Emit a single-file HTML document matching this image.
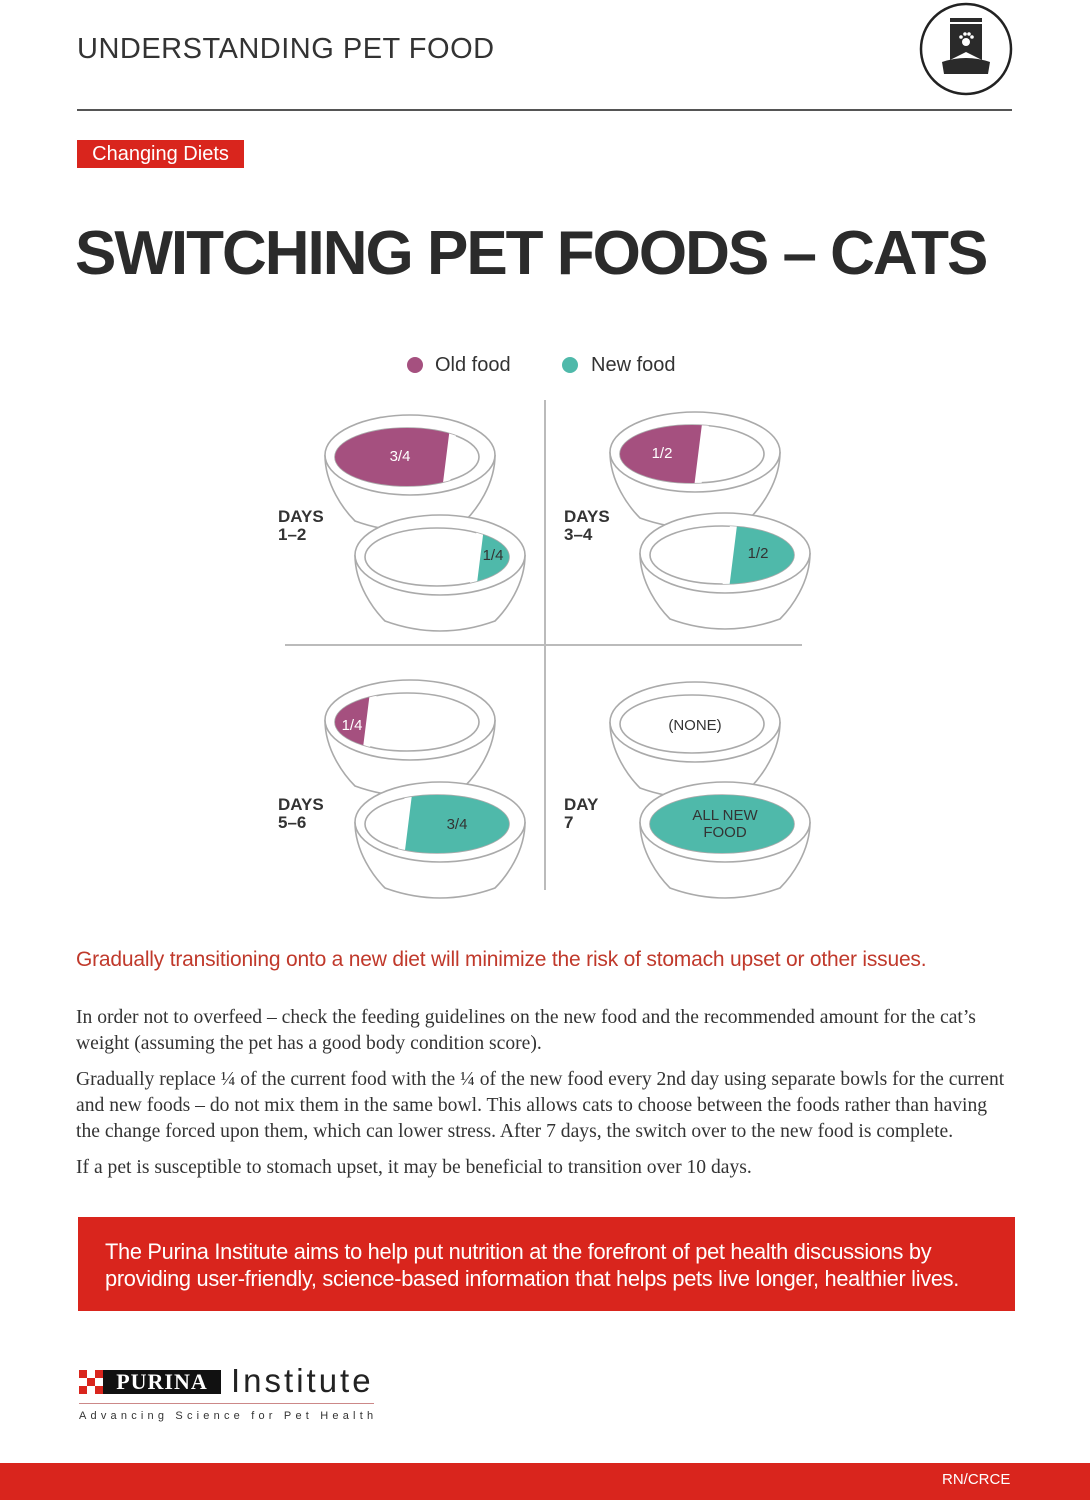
<!DOCTYPE html>
<html><head><meta charset="utf-8"><style>
body{margin:0;width:1090px;height:1500px;background:#fff;position:relative;overflow:hidden;font-family:"Liberation Sans",sans-serif;color:#333}
.a{position:absolute}
p{margin:0}
</style></head><body>
<div class="a" style="left:77px;top:33px;font-size:29px;color:#333;letter-spacing:0.5px">UNDERSTANDING PET FOOD</div>
<svg class="a" style="left:918px;top:2px" width="98" height="96" viewBox="0 0 98 96">
<circle cx="48" cy="47" r="45" fill="none" stroke="#222" stroke-width="2.5"/>
<rect x="32" y="16" width="32" height="42" fill="#2a2a2a"/>
<rect x="32" y="20" width="32" height="2" fill="#fff"/>
<path d="M32 58 L48 50 L64 58 Z" fill="#fff"/>
<path d="M24 60 Q48 52 72 60 L70 72 L26 72 Z" fill="#2a2a2a"/>
<circle cx="48" cy="40" r="4" fill="#fff"/><circle cx="43" cy="35" r="1.8" fill="#fff"/><circle cx="47" cy="32" r="1.8" fill="#fff"/><circle cx="51" cy="32" r="1.8" fill="#fff"/><circle cx="54" cy="35" r="1.8" fill="#fff"/>
</svg>
<div class="a" style="left:77px;top:109px;width:935px;height:2px;background:#555"></div>
<div class="a" style="left:77px;top:140px;width:167px;height:28px;background:#d9251d;color:#fff;font-size:20px;line-height:28px;text-align:center">Changing Diets</div>
<div class="a" style="left:75px;top:218px;font-size:62px;font-weight:bold;color:#2b2b2b;letter-spacing:-2px">SWITCHING PET FOODS – CATS</div>

<svg class="a" style="left:0;top:340px" width="1090" height="580" viewBox="0 340 1090 580" font-family="Liberation Sans, sans-serif">
<defs>
<clipPath id="ci"><ellipse cx="-3" cy="2" rx="72" ry="29"/></clipPath>
<g id="bw">
<path d="M-85 0 C-85 30 -66 55 -55 66 Q0 86 55 66 C66 55 85 30 85 0" fill="#fff" stroke="#aaa" stroke-width="1.6"/>
<ellipse cx="0" cy="0" rx="85" ry="40" fill="#fff" stroke="#aaa" stroke-width="1.6"/>
<ellipse cx="-3" cy="2" rx="72" ry="29" fill="#fff" stroke="#aaa" stroke-width="1.6"/>
</g>
</defs>
<circle cx="415" cy="365" r="8" fill="#a5507f"/><text x="435" y="371" font-size="20" fill="#333">Old food</text>
<circle cx="570" cy="365" r="8" fill="#4fb9aa"/><text x="591" y="371" font-size="20" fill="#333">New food</text>
<line x1="545" y1="400" x2="545" y2="890" stroke="#bbb" stroke-width="2"/>
<line x1="285" y1="645" x2="802" y2="645" stroke="#bbb" stroke-width="2"/>
<g font-size="17" font-weight="bold" fill="#333">
<text x="278" y="522">DAYS</text><text x="278" y="540">1–2</text>
<text x="564" y="522">DAYS</text><text x="564" y="540">3–4</text>
<text x="278" y="810">DAYS</text><text x="278" y="828">5–6</text>
<text x="564" y="810">DAY</text><text x="564" y="828">7</text>
</g>
<g transform="translate(410,455)"><use href="#bw"/><g clip-path="url(#ci)"><polygon points="-100,-40 45,-40 35,40 -100,40" fill="#a5507f"/><line x1="45" y1="-40" x2="35" y2="40" stroke="#fff" stroke-width="7"/></g><text x="-10" y="6" font-size="15" fill="#fff" text-anchor="middle">3/4</text></g>
<g transform="translate(440,555)"><use href="#bw"/><g clip-path="url(#ci)"><polygon points="42,-40 100,-40 100,40 32,40" fill="#4fb9aa"/><line x1="42" y1="-40" x2="32" y2="40" stroke="#fff" stroke-width="7"/></g><text x="53" y="5" font-size="15" fill="#333" text-anchor="middle">1/4</text></g>
<g transform="translate(695,452)"><use href="#bw"/><g clip-path="url(#ci)"><polygon points="-100,-40 12,-40 2,40 -100,40" fill="#a5507f"/><line x1="12" y1="-40" x2="2" y2="40" stroke="#fff" stroke-width="7"/></g><text x="-33" y="6" font-size="15" fill="#fff" text-anchor="middle">1/2</text></g>
<g transform="translate(725,553)"><use href="#bw"/><g clip-path="url(#ci)"><polygon points="10,-40 100,-40 100,40 0,40" fill="#4fb9aa"/><line x1="10" y1="-40" x2="0" y2="40" stroke="#fff" stroke-width="7"/></g><text x="33" y="5" font-size="15" fill="#333" text-anchor="middle">1/2</text></g>
<g transform="translate(410,720)"><use href="#bw"/><g clip-path="url(#ci)"><polygon points="-100,-40 -35,-40 -45,40 -100,40" fill="#a5507f"/><line x1="-35" y1="-40" x2="-45" y2="40" stroke="#fff" stroke-width="7"/></g><text x="-58" y="10" font-size="15" fill="#fff" text-anchor="middle">1/4</text></g>
<g transform="translate(440,822)"><use href="#bw"/><g clip-path="url(#ci)"><polygon points="-30,-40 100,-40 100,40 -40,40" fill="#4fb9aa"/><line x1="-30" y1="-40" x2="-40" y2="40" stroke="#fff" stroke-width="7"/></g><text x="17" y="7" font-size="15" fill="#333" text-anchor="middle">3/4</text></g>
<g transform="translate(695,722)"><use href="#bw"/><text x="0" y="8" font-size="15" fill="#333" text-anchor="middle">(NONE)</text></g>
<g transform="translate(725,822)"><use href="#bw"/><ellipse cx="-3" cy="2" rx="72" ry="29" fill="#4fb9aa"/><text x="0" y="-2" font-size="15" fill="#333" text-anchor="middle">ALL NEW</text><text x="0" y="15" font-size="15" fill="#333" text-anchor="middle">FOOD</text></g>
</svg>

<div class="a" style="left:76px;top:948px;font-size:21px;color:#c0392b;letter-spacing:-0.2px;white-space:nowrap">Gradually transitioning onto a new diet will minimize the risk of stomach upset or other issues.</div>
<div class="a" style="left:76px;top:1005px;width:935px;font-family:'Liberation Serif',serif;font-size:19.6px;line-height:26px;color:#333">
<p>In order not to overfeed – check the feeding guidelines on the new food and the recommended amount for the cat’s weight (assuming the pet has a good body condition score).</p>
<p style="margin-top:10px">Gradually replace ¼ of the current food with the ¼ of the new food every 2nd day using separate bowls for the current and new foods – do not mix them in the same bowl. This allows cats to choose between the foods rather than having the change forced upon them, which can lower stress. After 7 days, the switch over to the new food is complete.</p>
<p style="margin-top:10px">If a pet is susceptible to stomach upset, it may be beneficial to transition over 10 days.</p>
</div>
<div class="a" style="left:78px;top:1217px;width:937px;height:94px;background:#d9251d;color:#fff;font-size:21.8px;line-height:27px;box-sizing:border-box;padding:21px 20px 0 27px;letter-spacing:-0.3px">The Purina Institute aims to help put nutrition at the forefront of pet health discussions by providing user-friendly, science-based information that helps pets live longer, healthier lives.</div>

<svg class="a" style="left:79px;top:1370px" width="24" height="24"><rect width="24" height="24" fill="#d9251d"/><rect x="8" y="0" width="8" height="8" fill="#fff"/><rect x="0" y="8" width="8" height="8" fill="#fff"/><rect x="16" y="8" width="8" height="8" fill="#fff"/><rect x="8" y="16" width="8" height="8" fill="#fff"/></svg>
<div class="a" style="left:103px;top:1370px;width:118px;height:24px;background:#111;color:#fff;font-family:'Liberation Serif',serif;font-weight:bold;font-size:22px;line-height:24px;text-align:center;letter-spacing:1px">PURINA</div>
<div class="a" style="left:231px;top:1362px;font-size:33px;color:#222;letter-spacing:3px">Institute</div>
<div class="a" style="left:79px;top:1403px;width:295px;height:1px;background:#c88"></div>
<div class="a" style="left:79px;top:1410px;font-size:11px;color:#333;letter-spacing:4.2px">Advancing Science for Pet Health</div>
<div class="a" style="left:0;top:1463px;width:1090px;height:37px;background:#d9251d"></div>
<div class="a" style="left:942px;top:1471px;font-size:15px;color:#fff">RN/CRCE</div>
</body></html>
